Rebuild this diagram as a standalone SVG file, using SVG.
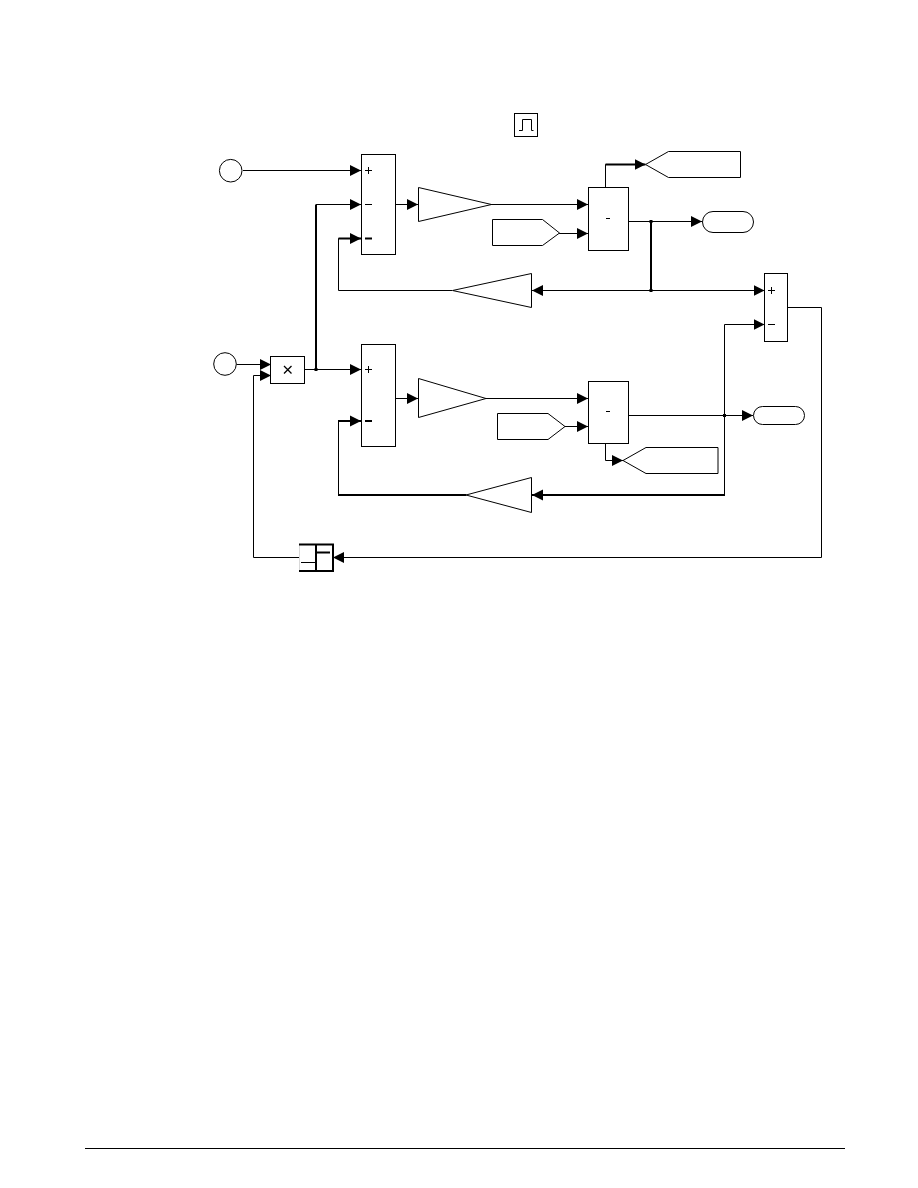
<svg xmlns="http://www.w3.org/2000/svg" width="918" height="1188" viewBox="0 0 918 1188">
  <style>
    .blk { fill: #fff; stroke: #000; stroke-width: 1; }
    .wire { fill: none; stroke: #000; stroke-width: 1; }
    .bold { fill: none; stroke: #000; stroke-width: 2; }
  </style>
  <defs>
    <marker id="arrow" markerUnits="userSpaceOnUse" markerWidth="12" markerHeight="13" refX="11" refY="6.5" orient="auto">
      <path d="M0 1 L11 6.5 L0 12 Z" fill="#000"/>
    </marker>
  </defs>
  <rect width="918" height="1188" fill="#fff"/>

  <g id="connectors">
    <path class="wire" d="M243 170.5H361" marker-end="url(#arrow)"/>
    <path class="wire" d="M316 204.5H361" marker-end="url(#arrow)"/>
    <path class="bold" d="M316 204.5V369.5"/>
    <path class="wire" d="M452 290.5H338.5V238.5H345"/>
    <path class="bold" d="M338.5 238.5H361" marker-end="url(#arrow)"/>
    <path class="wire" d="M395 204.5H418" marker-end="url(#arrow)"/>
    <path class="wire" d="M491 204.5H588" marker-end="url(#arrow)"/>
    <path class="wire" d="M559 233.5H588" marker-end="url(#arrow)"/>
    <path class="wire" d="M605.5 187V164.5H615"/>
    <path class="bold" d="M605.5 164.5H645.5" marker-end="url(#arrow)"/>
    <path class="wire" d="M628.5 221.5H702" marker-end="url(#arrow)"/>
    <path class="bold" d="M651 221.5V290.5"/>
    <path class="wire" d="M651 290.5H532" marker-end="url(#arrow)"/>
    <path class="wire" d="M651 290.5H764.5" marker-end="url(#arrow)"/>
    <path class="wire" d="M724.5 495V324.5H764.5" marker-end="url(#arrow)"/>
    <path class="wire" d="M787 307.5H821.5V557.5H333" marker-end="url(#arrow)"/>
    <path class="wire" d="M299 557.5H253.5V375.5H271" marker-end="url(#arrow)"/>
    <path class="wire" d="M236.5 364.5H271" marker-end="url(#arrow)"/>
    <path class="wire" d="M304.5 369.5H361" marker-end="url(#arrow)"/>
    <path class="wire" d="M395 398.5H418" marker-end="url(#arrow)"/>
    <path class="wire" d="M486 398.5H588" marker-end="url(#arrow)"/>
    <path class="wire" d="M565 426.5H588" marker-end="url(#arrow)"/>
    <path class="wire" d="M628.5 415.5H753" marker-end="url(#arrow)"/>
    <path class="wire" d="M605.5 443V460.5H623" marker-end="url(#arrow)"/>
    <path class="bold" d="M725 495H532" marker-end="url(#arrow)"/>
    <path class="bold" d="M466 495H338"/>
    <path class="wire" d="M338.5 495V421"/>
    <path class="bold" d="M338 421H361" marker-end="url(#arrow)"/>
    <rect x="649.5" y="220" width="3" height="3" fill="#000"/>
    <rect x="649.5" y="289" width="3" height="3" fill="#000"/>
    <rect x="723" y="414" width="3" height="3" fill="#000"/>
    <rect x="314.5" y="368" width="3" height="3" fill="#000"/>
  </g>

  <g id="pulse">
    <rect class="blk" x="514.5" y="113.5" width="23" height="23"/>
    <path class="wire" d="M519 130.5H522.5V119.5H531.5V130.5H533.5"/>
  </g>
  <g id="input-1"><circle class="blk" cx="230.7" cy="170.7" r="11.3"/></g>
  <g id="input-2"><circle class="blk" cx="225" cy="364" r="11.3"/></g>

  <g id="sum-1">
    <rect class="blk" x="361.5" y="154.5" width="34" height="100"/>
    <path class="wire" d="M365 170.5H372M368.5 167V174M365 204.5H372"/>
    <path class="bold" d="M365 238.5H372"/>
  </g>
  <g id="sum-2">
    <rect class="blk" x="361.5" y="344.5" width="34" height="102"/>
    <path class="wire" d="M365 369.5H372M368.5 366V373"/>
    <path class="bold" d="M365 421H372"/>
  </g>
  <g id="sum-3">
    <rect class="blk" x="764.5" y="273.5" width="23" height="68"/>
    <path class="wire" d="M768 290.5H775M771.5 287V294M768 324.5H775"/>
  </g>

  <g id="gain-1"><polygon class="blk" points="418.5,187.5 491.5,204.5 418.5,221.5"/></g>
  <g id="gain-2"><polygon class="blk" points="418.5,378.5 486,398.5 418.5,417.5"/></g>
  <g id="gain-3"><polygon class="blk" points="531.5,273.5 531.5,307.5 452.5,290.5"/></g>
  <g id="gain-4"><polygon class="blk" points="531.5,477.5 531.5,512.5 466,495"/></g>

  <g id="from-1"><polygon class="blk" points="492.5,219.5 542.5,219.5 559.5,233 542.5,245.5 492.5,245.5"/></g>
  <g id="from-2"><polygon class="blk" points="497.5,413.5 548,413.5 565,426.5 548,439.5 497.5,439.5"/></g>

  <g id="block-1">
    <rect class="blk" x="588.5" y="187.5" width="40" height="63"/>
    <path class="wire" d="M606 218.5H610"/>
  </g>
  <g id="block-2">
    <rect class="blk" x="588.5" y="381.5" width="40" height="62"/>
    <path class="wire" d="M606 411.5H610"/>
  </g>

  <g id="goto-1"><polygon class="blk" points="645.5,164.5 668.5,151.5 740.5,151.5 740.5,177.5 668.5,177.5"/></g>
  <g id="goto-2"><polygon class="blk" points="623,460.5 646,447.5 718,447.5 718,473.5 646,473.5"/></g>

  <g id="out-1"><rect class="blk" x="702.5" y="211.5" width="51" height="21" rx="10.5"/></g>
  <g id="out-2"><rect class="blk" x="753.5" y="406.5" width="51" height="18" rx="9"/></g>

  <g id="product">
    <rect class="blk" x="270.5" y="356.5" width="34" height="27"/>
    <path class="wire" stroke-width="1.3" style="stroke-width:1.3" d="M284 366L291.5 373.5M291.5 366L284 373.5"/>
  </g>

  <g id="memory">
    <rect x="299" y="544" width="34" height="27.5" fill="#fff"/>
    <path class="bold" d="M299 544.5H333V571H299"/>
    <path class="wire" d="M299.5 544V571" stroke-opacity="0.15"/>
    <path class="bold" d="M316 544V571M316 552.5H330"/>
    <path class="wire" d="M301 562.5H316"/>
  </g>

  <path id="page-rule" class="wire" d="M85 1148.5H845"/>
</svg>
